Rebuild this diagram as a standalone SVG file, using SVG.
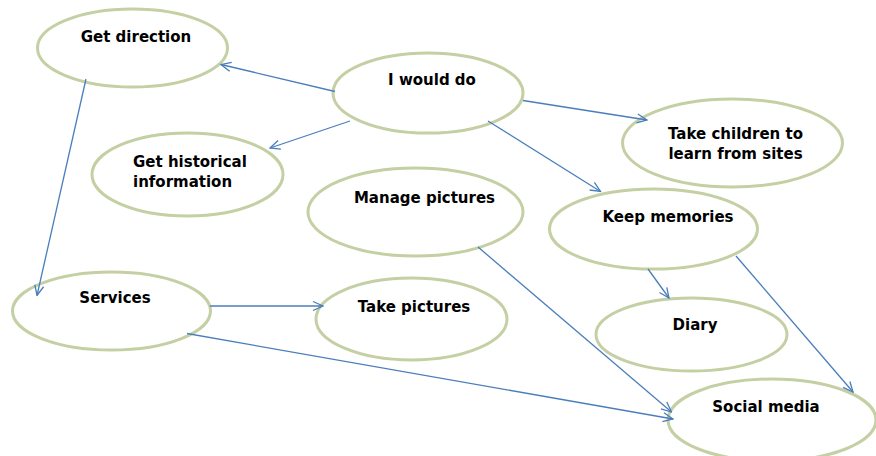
<svg xmlns="http://www.w3.org/2000/svg" width="876" height="456" viewBox="0 0 876 456">
<style>
.n ellipse{fill:#fff;stroke:#c4d0a4;stroke-width:3}
.n text{font-family:"DejaVu Sans",sans-serif;font-weight:bold;font-size:15px;fill:#000;text-anchor:middle}
.n text.l{text-anchor:start}
.c line{stroke:#4a7ebb;stroke-width:1.3;fill:none}
</style>
<defs>
<marker id="a" markerUnits="userSpaceOnUse" markerWidth="12" markerHeight="12" refX="11" refY="6" orient="auto">
<path d="M1,1.5 L11,6 L1,10.5" fill="none" stroke="#4a7ebb" stroke-width="1.3"/>
</marker>
</defs>
<rect width="876" height="456" fill="#fff"/>
<g id="n-getdirection" class="n"><ellipse cx="132.5" cy="48" rx="95" ry="39"/><text x="136" y="42">Get direction</text></g>
<g id="n-iwoulddo" class="n"><ellipse cx="428" cy="93" rx="95" ry="40"/><text x="432" y="85">I would do</text></g>
<g id="n-takechildren" class="n"><ellipse cx="732.5" cy="143" rx="110" ry="44"/><text x="735.5" y="139">Take children to</text><text x="735.5" y="159">learn from sites</text></g>
<g id="n-gethistorical" class="n"><ellipse cx="187.5" cy="174.5" rx="95.5" ry="41.5"/><text class="l" x="133" y="167">Get historical</text><text class="l" x="133" y="187">information</text></g>
<g id="n-managepictures" class="n"><ellipse cx="415.5" cy="212" rx="107.5" ry="44"/><text x="424.5" y="203">Manage pictures</text></g>
<g id="n-keepmemories" class="n"><ellipse cx="653.5" cy="229" rx="104" ry="40"/><text x="668" y="222">Keep memories</text></g>
<g id="n-services" class="n"><ellipse cx="111.5" cy="311" rx="99" ry="39"/><text x="115" y="303">Services</text></g>
<g id="n-takepictures" class="n"><ellipse cx="411.5" cy="319" rx="95.5" ry="41"/><text x="414" y="312">Take pictures</text></g>
<g id="n-diary" class="n"><ellipse cx="691.5" cy="334.5" rx="95.5" ry="36.5"/><text x="695" y="330">Diary</text></g>
<g id="n-socialmedia" class="n"><ellipse cx="772" cy="420" rx="104" ry="41"/><text x="766" y="412">Social media</text></g>
<g id="connectors" class="c">
<line x1="335" y1="91.5" x2="221" y2="64.5" marker-end="url(#a)"/>
<line x1="350" y1="121" x2="270" y2="148" marker-end="url(#a)"/>
<line x1="523" y1="100.5" x2="647" y2="120" marker-end="url(#a)"/>
<line x1="488" y1="121" x2="600.5" y2="191.5" marker-end="url(#a)"/>
<line x1="86" y1="79" x2="37" y2="295.5" marker-end="url(#a)"/>
<line x1="210" y1="306" x2="323" y2="306" marker-end="url(#a)"/>
<line x1="187" y1="333.5" x2="673" y2="419" marker-end="url(#a)"/>
<line x1="478" y1="247" x2="671.5" y2="412" marker-end="url(#a)"/>
<line x1="648" y1="269" x2="669" y2="298" marker-end="url(#a)"/>
<line x1="736" y1="256" x2="853" y2="392" marker-end="url(#a)"/>
</g>
</svg>
